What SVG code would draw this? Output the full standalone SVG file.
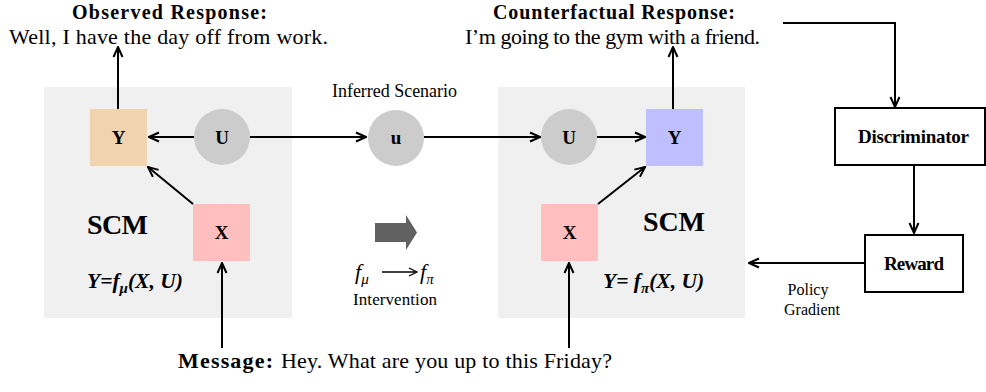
<svg xmlns="http://www.w3.org/2000/svg" width="986" height="392" viewBox="0 0 986 392">
<defs>
<marker id="ah" viewBox="0 0 12 12" refX="11" refY="6" markerWidth="12" markerHeight="12" markerUnits="userSpaceOnUse" orient="auto">
<path d="M1,1.5 L11,6 L1,10.5" fill="none" stroke="#000" stroke-width="2"/>
</marker>
</defs>
<style>
text{font-family:"Liberation Serif","Times New Roman",serif;fill:#000}
.b{font-weight:bold}
.lbl{font-size:19px;font-weight:bold;text-anchor:middle}
.c{stroke:#000;stroke-width:2;fill:none}
.a{marker-end:url(#ah)}
.panel{fill:#f0f0f0}
.circ{fill:#cccccc}
.box{fill:#fff;stroke:#000;stroke-width:2}
</style>
<rect class="panel" x="44" y="87" width="248" height="231"/>
<rect class="panel" x="498" y="87" width="247" height="231"/>

<g id="connectors">
<line class="c a" x1="118" y1="109" x2="118" y2="47"/>
<line class="c a" x1="194" y1="137" x2="149" y2="137"/>
<line class="c a" x1="250" y1="137" x2="366" y2="137"/>
<line class="c a" x1="193" y1="204" x2="148" y2="167"/>
<line class="c a" x1="222" y1="348" x2="222" y2="263"/>
<line class="c a" x1="424" y1="137" x2="540" y2="137"/>
<line class="c a" x1="597" y1="137" x2="645" y2="137"/>
<line class="c a" x1="598" y1="204" x2="645" y2="167"/>
<line class="c a" x1="673" y1="109" x2="673" y2="47"/>
<line class="c a" x1="569" y1="348" x2="569" y2="263"/>
<polyline class="c a" points="783,23 895,23 895,107"/>
<line class="c a" x1="914" y1="166" x2="914" y2="233"/>
<line class="c a" x1="865" y1="263" x2="749" y2="263"/>
</g>

<g id="left-Y"><rect x="90" y="109" width="57" height="57" fill="#f2d3b0"/><text class="lbl" x="118.5" y="144">Y</text></g>
<g id="left-U"><circle class="circ" cx="222" cy="137" r="28"/><text class="lbl" x="222" y="144">U</text></g>
<g id="left-X"><rect x="193" y="204" width="57" height="57" fill="#ffbfbf"/><text class="lbl" x="221.5" y="239">X</text></g>
<g id="left-scm">
<text class="b" x="87" y="234" font-size="28" textLength="61">SCM</text>
<text class="b" x="87" y="288" font-size="21.5" font-style="italic">Y=f<tspan font-size="15" dy="5">μ</tspan><tspan dy="-5">(X, U)</tspan></text>
</g>

<g id="u"><circle class="circ" cx="396" cy="138" r="28"/><text class="lbl" x="396" y="144">u</text><text x="394.5" y="97" font-size="18" text-anchor="middle" textLength="125">Inferred Scenario</text></g>

<g id="intervention">
<path d="M375,223 L406,223 L406,215 L417,232.5 L406,250 L406,242 L375,242 Z" fill="#616161"/>
<text x="355" y="279" font-size="22" font-style="italic">f<tspan font-size="15" dy="5">μ</tspan></text>
<line x1="382" y1="272" x2="416" y2="272" stroke="#000" stroke-width="1.3"/>
<path d="M409,268 L417,272 L409,276" fill="none" stroke="#000" stroke-width="1.3"/>
<text x="420" y="279" font-size="22" font-style="italic">f<tspan font-size="15" dy="5">π</tspan></text>
<text x="395" y="305" font-size="17" text-anchor="middle" textLength="84">Intervention</text>
</g>

<g id="right-U"><circle class="circ" cx="569" cy="137" r="28"/><text class="lbl" x="569" y="144">U</text></g>
<g id="right-Y"><rect x="646" y="109" width="57" height="57" fill="#bfbfff"/><text class="lbl" x="674.5" y="144">Y</text></g>
<g id="right-X"><rect x="541" y="204" width="57" height="57" fill="#ffbfbf"/><text class="lbl" x="569.5" y="239">X</text></g>
<g id="right-scm">
<text class="b" x="643" y="231" font-size="28" textLength="62">SCM</text>
<text class="b" x="603" y="288" font-size="21.5" font-style="italic">Y= f<tspan font-size="15" dy="5">π</tspan><tspan dy="-5">(X, U)</tspan></text>
</g>

<g id="discriminator"><rect class="box" x="835" y="108" width="150" height="57"/><text class="lbl" x="913.5" y="143" font-size="16" textLength="111">Discriminator</text></g>
<g id="reward"><rect class="box" x="865" y="235" width="98" height="57"/><text class="lbl" x="914" y="270" font-size="16" textLength="60">Reward</text></g>
<g id="policy"><text x="808" y="295" font-size="16" text-anchor="middle">Policy</text><text x="812" y="315" font-size="16" text-anchor="middle">Gradient</text></g>

<g id="observed">
<text class="b" x="169.5" y="19" font-size="20" text-anchor="middle" textLength="195">Observed Response:</text>
<text x="168.5" y="44" font-size="22" text-anchor="middle" textLength="319">Well, I have the day off from work.</text>
</g>
<g id="counterfactual">
<text class="b" x="614" y="19" font-size="20" text-anchor="middle" textLength="242">Counterfactual Response:</text>
<text x="612.5" y="44" font-size="22" text-anchor="middle" textLength="295">I’m going to the gym with a friend.</text>
</g>
<g id="message">
<text class="b" x="178" y="368" font-size="22" textLength="95">Message:</text>
<text x="281" y="368" font-size="22" textLength="331">Hey. What are you up to this Friday?</text>
</g>
</svg>
